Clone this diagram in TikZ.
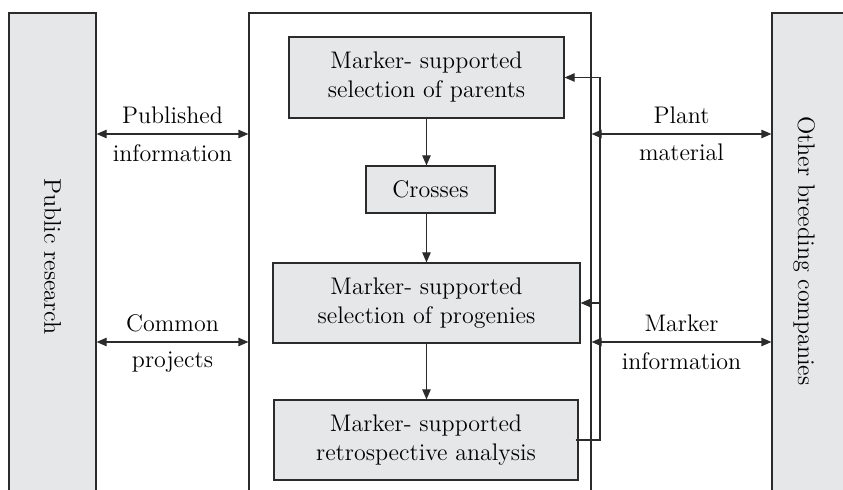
\documentclass[tikz,border=0pt]{standalone}
\usetikzlibrary{arrows.meta}
\definecolor{boxgray}{HTML}{E6E7E8}
\definecolor{linegray}{HTML}{2B2B2B}
\begin{document}
\begin{tikzpicture}[x=0.5pt, y=-0.5pt,
                every node/.style={font=\fontsize{12}{14.5}\selectfont},
                stepbox/.style={draw=linegray, line width=0.6pt, fill=boxgray,
                        align=center, inner sep=0pt},
                bar/.style={draw=linegray, line width=0.6pt, fill=boxgray, inner sep=0pt},
                flow/.style={draw=linegray, line width=0.6pt,
                        -{Triangle[length=5pt, width=4.2pt]}},
                swap/.style={draw=linegray, line width=0.6pt,
                        {Triangle[length=5pt, width=4.2pt]}-{Triangle[length=5pt, width=4.2pt]}}]
            \useasboundingbox (0,0) rectangle (843,490);
            % side bars and frame
            \node[bar, minimum width=43.5pt, minimum height=243.5pt,
                  label={[rotate=-90]center:Public research}] (pubres) at (52.5,256.5) {};
            \node[bar, minimum width=38pt, minimum height=243.5pt] (others) at (810,256.5) {};
            \node[rotate=-90] (otherslabel) at (804,251) {Other breeding companies};
            \node[draw=linegray, line width=0.6pt, minimum width=171pt, minimum height=243.5pt,
                  inner sep=0pt] (frame) at (420,256.5) {};
            % breeding steps
            \node[stepbox, minimum width=137.5pt, minimum height=40.5pt] (parents) at (426.5,77.5)
                {Marker- supported\\ selection of parents};
            \node[stepbox, minimum width=64.5pt, minimum height=23.5pt] (crosses) at (430.5,189.5)
                {Crosses};
            \node[stepbox, minimum width=153.5pt, minimum height=40pt] (progenies) at (426.5,303)
                {Marker- supported\\ selection of progenies};
            \node[stepbox, minimum width=152pt, minimum height=40pt] (retro) at (426,440)
                {Marker- supported\\ retrospective analysis};
            \coordinate (fb) at (600,0);
            \coordinate (upper) at (0,134);
            \coordinate (lower) at (0,342);
            % connectors
            \draw[flow] (parents.south) -- (parents.south |- crosses.north);
            \draw[flow] (parents.south |- crosses.south) -- (parents.south |- progenies.north);
            \draw[flow] (progenies.south) -- (progenies.south |- retro.north);
            \draw[flow] ([xshift=-1.5pt]retro.east) -- (retro.east -| fb) -- (parents.east -| fb)
                -- (parents.east);
            \draw[flow] (progenies.east -| fb) -- (progenies.east);
            \draw[swap] (pubres.east |- upper) -- (frame.west |- upper)
                node[midway, above=1.5pt] {Published}
                node[midway, below=1.5pt] {information};
            \draw[swap] (pubres.east |- lower) -- (frame.west |- lower)
                node[midway, above=1.5pt] {Common}
                node[midway, below=1.5pt] {projects};
            \draw[swap] (frame.east |- upper) -- (others.west |- upper)
                node[midway, above=1.5pt] {Plant}
                node[midway, below=1.5pt] {material};
            \draw[swap] (frame.east |- lower) -- (others.west |- lower)
                node[midway, above=1.5pt] {Marker}
                node[midway, below=1.5pt] {information};
        \end{tikzpicture}
\end{document}
